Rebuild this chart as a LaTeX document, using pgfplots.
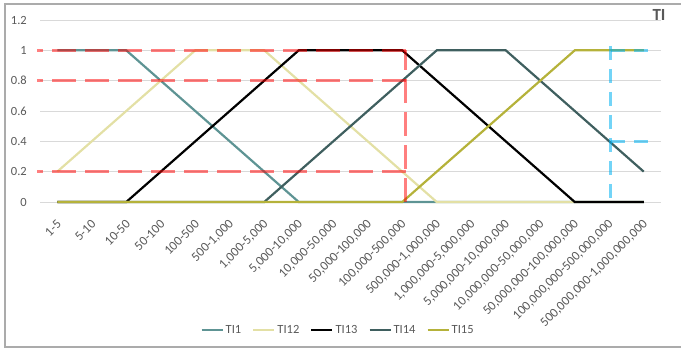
\documentclass[border=0pt]{standalone}
\usepackage{pgfplots}
\pgfplotsset{compat=1.18}
\usepackage{fontspec}
\setmainfont{Carlito}
\definecolor{tione}{HTML}{5E9494}
\definecolor{titwelve}{HTML}{E3E0A5}
\definecolor{tithirteen}{HTML}{000000}
\definecolor{tifourteen}{HTML}{3F5F5F}
\definecolor{tififteen}{HTML}{B5B23A}
\definecolor{framegray}{HTML}{ABABAB}
\definecolor{gridgray}{HTML}{D9D9D9}
\definecolor{labelgray}{HTML}{595959}
\definecolor{dashred}{HTML}{FF0000}
\definecolor{dashblue}{HTML}{00B0F0}
\begin{document}
\fontsize{12.5bp}{15bp}\selectfont
\begin{tikzpicture}
\useasboundingbox (0,0) rectangle (681bp,354bp);
\draw[color=framegray, line width=1.5bp] (681bp,7bp) -- (5bp,7bp) -- (5bp,350bp) -- (681bp,350bp);
\node[anchor=center, text=labelgray, font=\fontsize{17bp}{20bp}\selectfont\bfseries] at (659bp,339bp) {TI};
\begin{axis}[
  at={(40bp,152bp)}, anchor=south west, scale only axis,
  width=621bp, height=182bp,
  xmin=-0.5, xmax=17.5, ymin=0, ymax=1.2,
  clip=false,
  axis line style={draw=none},
  major tick length=0pt,
  ymajorgrids, major grid style={color=gridgray, line width=0.8bp},
  xtick={0,1,2,3,4,5,6,7,8,9,10,11,12,13,14,15,16,17},
  xticklabels={{1-5},{5-10},{10-50},{50-100},{100-500},{500-1,000},{1,000-5,000},{5,000-10,000},{10,000-50,000},{50,000-100,000},{100,000-500,000},{500,000-1,000,000},{1,000,000-5,000,000},{5,000,000-10,000,000},{10,000,000-50,000,000},{50,000,000-100,000,000},{100,000,000-500,000,000},{500,000,000-1,000,000,000}},
  ytick={0,0.2,0.4,0.6,0.8,1,1.2},
  yticklabels={0,0.2,0.4,0.6,0.8,1,1.2},
  tick label style={text=labelgray, font=\fontsize{12.5bp}{15bp}\selectfont},
  xticklabel style={xshift=2bp, yshift=-20bp, rotate=45, anchor=east, inner sep=0pt, font=\fontsize{13bp}{15bp}\selectfont},
  yticklabel style={xshift=-13bp, inner sep=0pt},
  legend style={at={(axis description cs:0.48,-0.703)}, anchor=center, draw=none, fill=none,
    legend columns=5, font=\fontsize{12.5bp}{15bp}\selectfont, text=labelgray,
    /tikz/every even column/.append style={column sep=9bp}},
  legend image code/.code={\draw[#1] (0bp,0bp) -- (21bp,0bp);},
  every axis plot/.append style={line width=2.2bp},
]
\addplot[color=tione] coordinates {(0,1) (1,1) (2,1) (3,0.8) (4,0.6) (5,0.4) (6,0.2) (7,0) (8,0) (9,0) (10,0) (11,0) (12,0) (13,0) (14,0) (15,0) (16,0) (17,0)};
\addlegendentry{TI1}
\addplot[color=titwelve] coordinates {(0,0.2) (1,0.4) (2,0.6) (3,0.8) (4,1) (5,1) (6,1) (7,0.8) (8,0.6) (9,0.4) (10,0.2) (11,0) (12,0) (13,0) (14,0) (15,0) (16,0) (17,0)};
\addlegendentry{TI12}
\addplot[color=tithirteen] coordinates {(0,0) (1,0) (2,0) (3,0.2) (4,0.4) (5,0.6) (6,0.8) (7,1) (8,1) (9,1) (10,1) (11,0.8) (12,0.6) (13,0.4) (14,0.2) (15,0) (16,0) (17,0)};
\addlegendentry{TI13}
\addplot[color=tifourteen] coordinates {(0,0) (1,0) (2,0) (3,0) (4,0) (5,0) (6,0) (7,0.2) (8,0.4) (9,0.6) (10,0.8) (11,1) (12,1) (13,1) (14,0.8) (15,0.6) (16,0.4) (17,0.2)};
\addlegendentry{TI14}
\addplot[color=tififteen] coordinates {(0,0) (1,0) (2,0) (3,0) (4,0) (5,0) (6,0) (7,0) (8,0) (9,0) (10,0) (11,0.2) (12,0.4) (13,0.6) (14,0.8) (15,1) (16,1) (17,1)};
\addlegendentry{TI15}
% red guide lines
\addplot[forget plot, color=dashred, opacity=0.5, line width=3bp, dash pattern=on 24bp off 9bp] coordinates {(10.1,1) (-0.6,1)};
\addplot[forget plot, color=dashred, opacity=0.5, line width=3bp, dash pattern=on 24bp off 9bp] coordinates {(10.1,0.8) (-0.6,0.8)};
\addplot[forget plot, color=dashred, opacity=0.5, line width=3bp, dash pattern=on 24bp off 9bp] coordinates {(10.1,0.2) (-0.6,0.2)};
\addplot[forget plot, color=dashred, opacity=0.5, line width=3bp, dash pattern=on 24bp off 9bp] coordinates {(10.1,0) (10.1,1)};
% blue guide lines
\addplot[forget plot, color=dashblue, opacity=0.55, line width=3bp, dash pattern=on 14bp off 9bp] coordinates {(16.05,1.03) (16.05,0)};
\addplot[forget plot, color=dashblue, opacity=0.55, line width=3bp, dash pattern=on 14bp off 9bp] coordinates {(16.05,1) (17.25,1)};
\addplot[forget plot, color=dashblue, opacity=0.55, line width=3bp, dash pattern=on 14bp off 9bp] coordinates {(16.05,0.4) (17.3,0.4)};
\end{axis}
\end{tikzpicture}
\end{document}
